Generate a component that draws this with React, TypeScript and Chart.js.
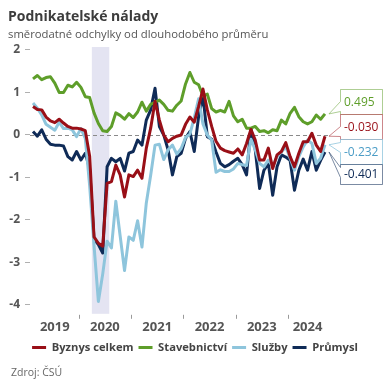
import React, { useEffect, useRef } from "react";
import { Chart, registerables } from "chart.js";

Chart.register(...registerables);

// ---- data (monthly, first point = Feb 2019) ----
const START_YEAR = 2019;
const START_MONTH = 2;

const seriesNames = ["Byznys celkem", "Stavebnictví", "Služby", "Průmysl"];

const byznysCelkem = [
  0.67, 0.60, 0.59, 0.42, 0.33, 0.29, 0.37, 0.28, 0.20, 0.16,
  0.16, 0.14, 0.10, -0.50, -2.40, -2.55, -2.62, -1.14, -1.10, -0.71,
  -0.94, -1.46, -0.94, -0.98, -0.83, -1.02, -0.31, 0.16, 0.79, 0.35,
  0.00, -0.16, -0.08, -0.03, 0.00, 0.25, 0.42, 0.30, 0.67, 1.08,
  0.59, 0.20, -0.15, -0.31, -0.37, -0.40, -0.43, -0.33, -0.47, -0.20,
  0.13, -0.12, -0.59, -0.59, -0.31, -0.79, -0.47, -0.39, -0.18, -0.51,
  -0.75, -0.43, -0.16, -0.16, 0.04, -0.24, -0.39, -0.030,
];

const stavebnictvi = [
  1.32, 1.40, 1.30, 1.35, 1.37, 1.22, 1.00, 1.00, 1.17, 1.13,
  1.24, 1.12, 0.90, 0.88, 0.52, 0.27, 0.10, 0.08, 0.20, 0.52,
  0.46, 0.37, 0.50, 0.41, 0.54, 0.77, 0.56, 0.72, 0.77, 0.82,
  0.72, 0.58, 0.56, 0.70, 0.80, 1.20, 1.47, 1.24, 1.18, 0.92,
  0.96, 0.62, 0.54, 0.58, 0.54, 0.79, 0.45, 0.31, 0.37, 0.16,
  0.16, 0.20, 0.08, 0.10, 0.05, 0.12, 0.10, 0.35, 0.26, 0.51,
  0.65, 0.43, 0.31, 0.26, 0.31, 0.47, 0.37, 0.495,
];

const sluzby = [
  0.75, 0.63, 0.47, 0.25, 0.18, 0.11, 0.30, 0.15, 0.16, 0.12,
  -0.04, 0.15, -0.08, -1.20, -2.60, -3.92, -3.27, -2.50, -2.66, -1.56,
  -2.38, -3.19, -2.40, -2.48, -2.02, -2.64, -1.60, -0.95, -0.24, -0.22,
  -0.58, -0.35, -0.24, -0.45, -0.32, -0.06, 0.02, 0.40, 0.85, 0.26,
  0.00, -0.12, -0.88, -0.82, -0.86, -0.86, -0.80, -0.67, -0.70, -0.72,
  -0.10, -0.35, -0.67, -0.75, -0.59, -0.75, -0.51, -0.40, -0.28, -0.55,
  -0.83, -0.51, -0.28, -0.12, -0.20, -0.67, -0.55, -0.232,
];

const prumysl = [
  0.08, -0.03, 0.12, -0.10, -0.22, -0.24, -0.24, -0.26, -0.51, -0.59,
  -0.39, -0.59, -0.43, -0.80, -2.45, -2.58, -2.78, -0.75, -0.55, -0.63,
  -0.55, -0.85, -0.43, -0.39, -0.12, -0.24, 0.35, 0.59, 1.10, 0.20,
  0.00, -0.35, -0.94, -0.51, -0.43, -0.08, 0.08, -0.39, 0.43, 0.92,
  -0.04, -0.10, -0.40, -0.67, -0.75, -0.70, -0.62, -0.55, -0.70, -0.94,
  0.15, -0.35, -1.26, -0.83, -0.67, -1.42, -0.75, -0.47, -0.52, -0.60,
  -1.30, -0.83, -0.57, -0.83, -0.39, -0.83, -0.60, -0.401,
];

const yTickValues = [-4, -3, -2, -1, 0, 1, 2];
const shadedFrom = { year: 2020, month: 4 };
const shadedTo = { year: 2020, month: 7 };

// ---- styles ----
const FONT = "'Open Sans', 'Noto Sans', sans-serif";
const lineColors = ["#990f17", "#5e9e2a", "#8ec5dc", "#0f2b57"];
const labelTextColors = ["#990f17", "#5e9e2a", "#4a9cc6", "#0f2b57"];
const labelBorderColors = [
  "rgba(153,15,23,0.5)",
  "rgba(94,158,42,0.5)",
  "rgba(110,180,210,0.6)",
  "rgba(15,43,87,0.55)",
];

const allSeries = [byznysCelkem, stavebnictvi, sluzby, prumysl];
const N = byznysCelkem.length;
const monthIdx = (y: number, m: number) => (y - START_YEAR) * 12 + (m - START_MONTH);
const yearOf = (i: number) => START_YEAR + Math.floor((START_MONTH - 1 + i) / 12);

// year label positions (middle of each year's points) and year boundaries
const yearGroups: { year: number; first: number; last: number }[] = [];
for (let i = 0; i < N; i++) {
  const y = yearOf(i);
  const g = yearGroups[yearGroups.length - 1];
  if (g && g.year === y) g.last = i;
  else yearGroups.push({ year: y, first: i, last: i });
}
const yearMids = yearGroups.map((g) => (g.first + g.last) / 2);
const yearLabels = yearGroups.map((g) => String(g.year));
const yearBoundaries = yearGroups.slice(1).map((g) => g.first - 0.5);

const bgPlugin = {
  id: "bgDecor",
  beforeDatasetsDraw(chart: any) {
    const { ctx, chartArea, scales } = chart;
    const xs = scales.x;
    const ys = scales.y;
    const x0 = xs.getPixelForValue(monthIdx(shadedFrom.year, shadedFrom.month) - 0.5);
    const x1 = xs.getPixelForValue(monthIdx(shadedTo.year, shadedTo.month) + 0.5);
    ctx.save();
    ctx.fillStyle = "#e4e4f2";
    ctx.fillRect(x0, chartArea.top, x1 - x0, chartArea.bottom - chartArea.top);
    const y0 = Math.round(ys.getPixelForValue(0)) + 0.5;
    ctx.strokeStyle = "#8a8a8a";
    ctx.lineWidth = 1;
    ctx.setLineDash([4, 3]);
    ctx.beginPath();
    ctx.moveTo(chartArea.left, y0);
    ctx.lineTo(xs.getPixelForValue(N - 1) + 3, y0);
    ctx.stroke();
    ctx.restore();
  },
  afterDraw(chart: any) {
    const { ctx, chartArea, scales } = chart;
    ctx.save();
    ctx.strokeStyle = "#9a9a9a";
    ctx.lineWidth = 1;
    ctx.beginPath();
    yearBoundaries.forEach((b) => {
      const x = Math.round(scales.x.getPixelForValue(b)) + 0.5;
      ctx.moveTo(x, chartArea.bottom + 1);
      ctx.lineTo(x, chartArea.bottom + 5);
    });
    ctx.stroke();
    ctx.restore();
  },
};

const calloutPlugin = {
  id: "callouts",
  afterDatasetsDraw(chart: any) {
    const { ctx } = chart;
    const items = chart.data.datasets
      .map((ds: any, i: number) => {
        const meta = chart.getDatasetMeta(i);
        const pt = meta.data[meta.data.length - 1];
        return { i, x: pt.x, y: pt.y, v: ds.data[ds.data.length - 1].y };
      })
      .sort((a: any, b: any) => a.y - b.y);
    const heights = items.map((_: any, k: number) => (k === items.length - 1 ? 20 : 25));
    const total = heights.reduce((s: number, h: number) => s + h, 0);
    const mean = items.reduce((s: number, it: any) => s + it.y, 0) / items.length;
    let top = Math.round(mean - total / 2) + 0.5;
    ctx.save();
    ctx.font = `12px ${FONT}`;
    ctx.textBaseline = "middle";
    ctx.textAlign = "left";
    ctx.lineWidth = 1;
    items.forEach((it: any, k: number) => {
      const h = heights[k];
      const bottom = top + h;
      const left = Math.round(it.x + 15) + 0.5;
      const right = left + 42;
      const tipX = it.x + 4;
      const bc = Math.min(Math.max(it.y, top + 8), bottom - 8);
      ctx.beginPath();
      ctx.moveTo(left, top);
      ctx.lineTo(right, top);
      ctx.lineTo(right, bottom);
      ctx.lineTo(left, bottom);
      ctx.lineTo(left, bc + 5);
      ctx.lineTo(tipX, it.y);
      ctx.lineTo(left, bc - 5);
      ctx.closePath();
      ctx.fillStyle = "#ffffff";
      ctx.fill();
      ctx.strokeStyle = labelBorderColors[it.i];
      ctx.stroke();
      ctx.fillStyle = labelTextColors[it.i];
      ctx.fillText(it.v.toFixed(3), left + 3.5, top + h / 2 + 0.5);
      top = bottom;
    });
    ctx.restore();
  },
};

export default function App() {
  const ref = useRef<HTMLCanvasElement>(null);

  useEffect(() => {
    if (!ref.current) return;
    const datasets = allSeries.map((s, k) => ({
      label: seriesNames[k],
      data: s.map((v, i) => ({ x: i, y: v })),
      borderColor: lineColors[k],
      backgroundColor: lineColors[k],
      borderWidth: 3,
      pointRadius: 0,
      pointHoverRadius: 0,
      tension: 0,
      borderJoinStyle: "round" as const,
      order: k,
    }));

    const chart = new Chart(ref.current, {
      type: "line",
      data: { datasets },
      plugins: [bgPlugin, calloutPlugin],
      options: {
        responsive: false,
        animation: false,
        devicePixelRatio: 1,
        layout: { padding: { left: 0, right: 0, top: 47, bottom: 27 } },
        font: { family: FONT },
        scales: {
          x: {
            type: "linear",
            min: -0.69,
            max: 81.92,
            afterFit: (s: any) => {
              s.height = 23;
            },
            afterBuildTicks: (s: any) => {
              s.ticks = yearMids.map((v) => ({ value: v }));
            },
            grid: { display: false, drawTicks: false },
            border: { display: false },
            ticks: {
              autoSkip: false,
              maxRotation: 0,
              padding: 6,
              color: "#555555",
              font: { family: FONT, size: 13, weight: "bold" },
              callback: (_v: any, i: number) => yearLabels[i],
            },
          },
          y: {
            min: -4.21,
            max: 2.07,
            afterFit: (s: any) => {
              s.width = 30;
            },
            afterBuildTicks: (s: any) => {
              s.ticks = yTickValues.map((v) => ({ value: v }));
            },
            grid: {
              display: true,
              drawOnChartArea: false,
              drawTicks: true,
              tickLength: 5,
              tickColor: "#b0b0b0",
            },
            border: { display: false },
            ticks: {
              padding: 5,
              color: "#555555",
              font: { family: FONT, size: 12, weight: "bold" },
              callback: (v: any) => String(v),
            },
          },
        },
        plugins: {
          legend: {
            display: true,
            position: "bottom",
            labels: {
              boxWidth: 14,
              boxHeight: 3,
              padding: 5,
              color: "#444444",
              font: { family: FONT, size: 11.2, weight: "bold" },
              generateLabels: (c: any) =>
                (Chart as any).defaults.plugins.legend.labels
                  .generateLabels(c)
                  .map((l: any) => ({ ...l, lineWidth: 0, fillStyle: l.strokeStyle })),
            },
          },
          tooltip: { enabled: false },
          title: { display: false },
        },
      } as any,
    });
    return () => chart.destroy();
  }, []);

  return (
    <div
      style={{
        position: "absolute",
        left: 0,
        top: 0,
        width: 390,
        height: 390,
        background: "#ffffff",
        overflow: "hidden",
        fontFamily: FONT,
      }}
    >
      <canvas
        ref={ref}
        width={390}
        height={390}
        style={{ position: "absolute", left: 0, top: 0, width: 390, height: 390 }}
      />
      <div
        style={{
          position: "absolute",
          left: 8,
          top: 6,
          fontSize: 14,
          lineHeight: "20px",
          fontWeight: 700,
          color: "#3c3c3c",
          whiteSpace: "nowrap",
        }}
      >
        Podnikatelské nálady
      </div>
      <div
        style={{
          position: "absolute",
          left: 8,
          top: 26,
          fontSize: 11.3,
          lineHeight: "16px",
          color: "#555555",
          whiteSpace: "nowrap",
        }}
      >
        směrodatné odchylky od dlouhodobého průměru
      </div>
      <div
        style={{
          position: "absolute",
          left: 11,
          top: 365,
          fontSize: 10.5,
          lineHeight: "14px",
          color: "#666666",
          whiteSpace: "nowrap",
        }}
      >
        Zdroj: ČSÚ
      </div>
    </div>
  );
}
